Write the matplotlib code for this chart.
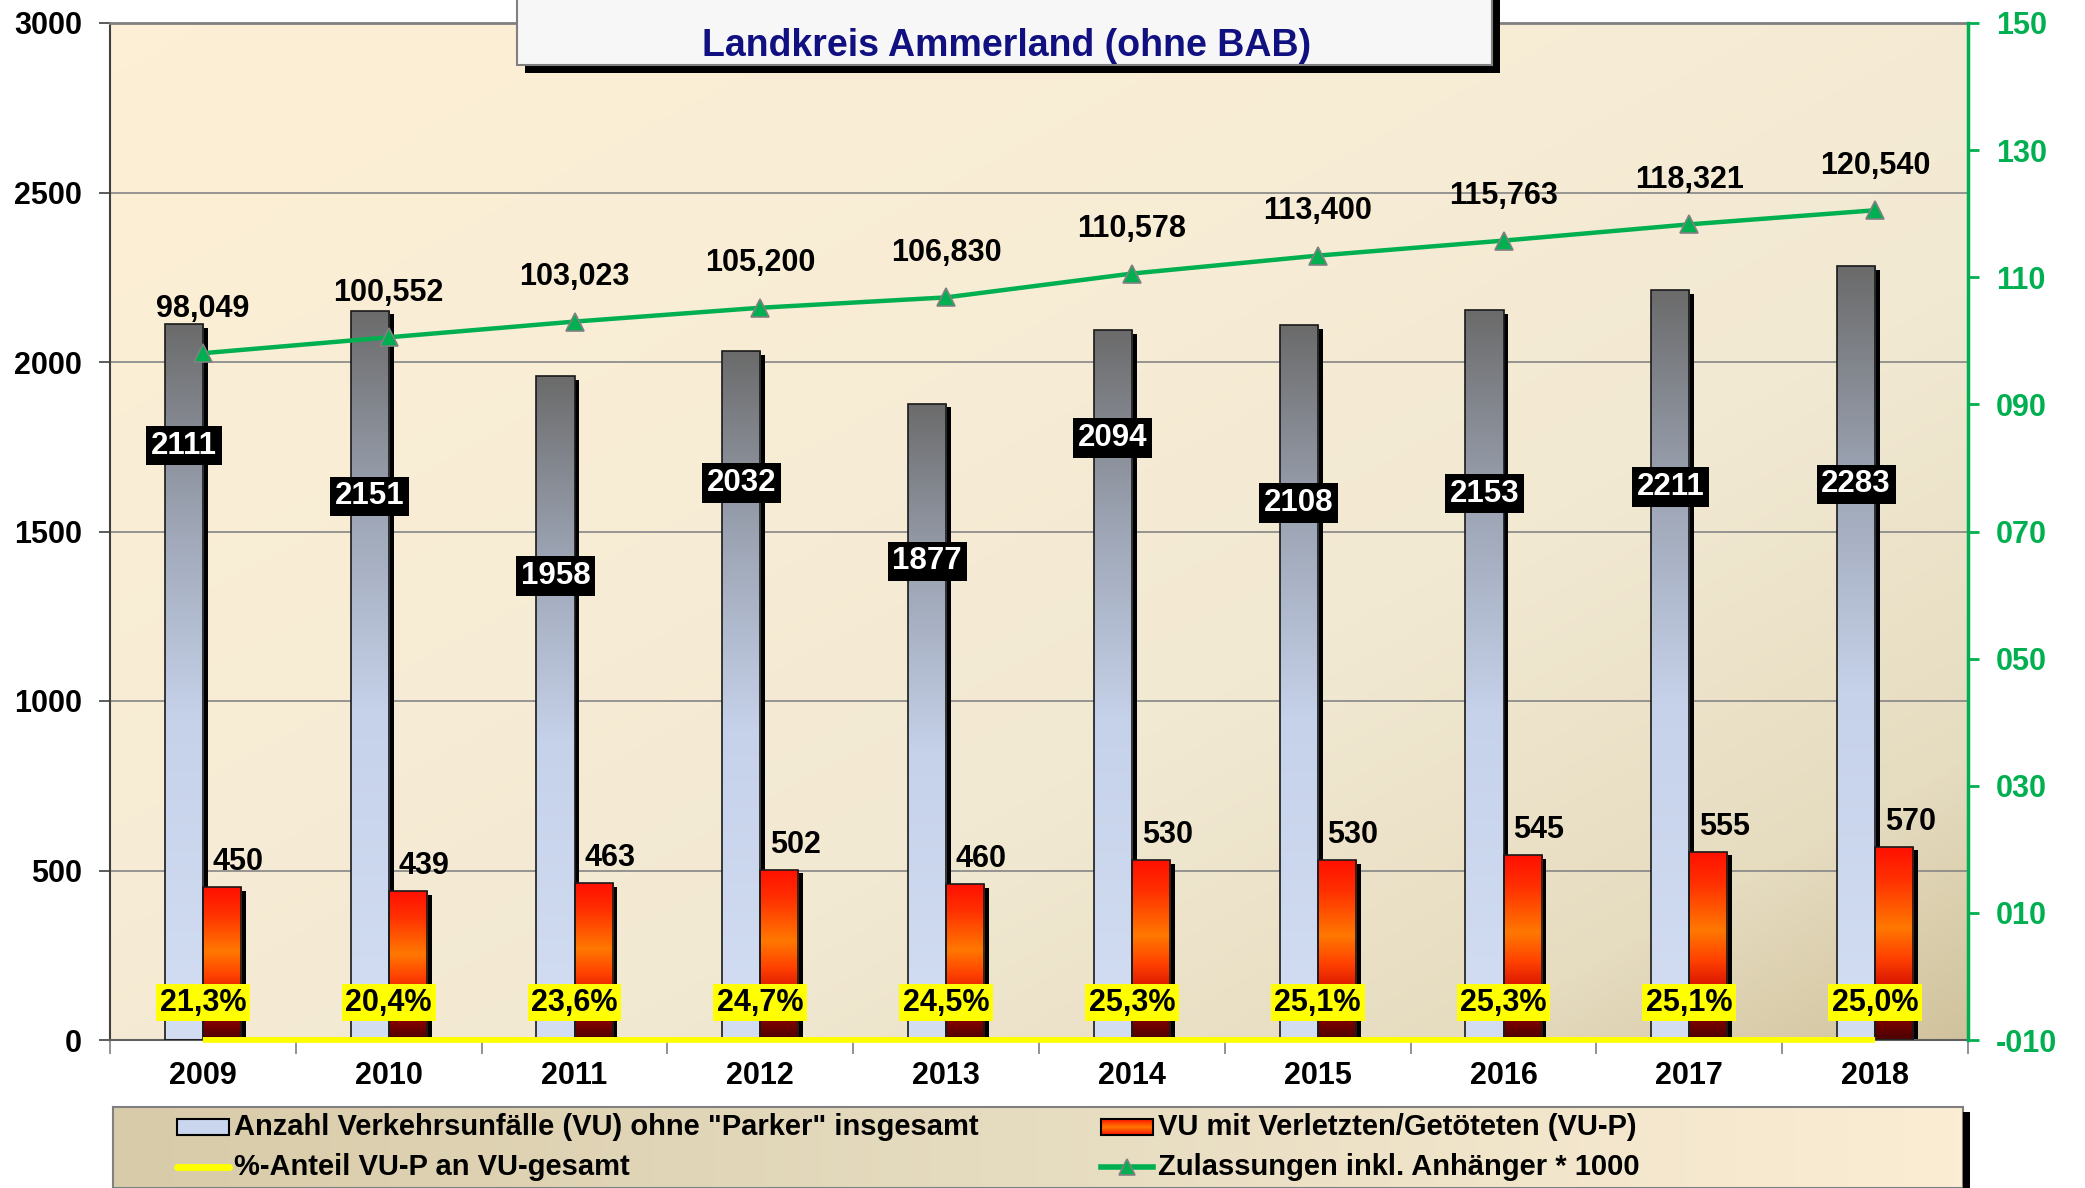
import numpy as np
import matplotlib
matplotlib.use("Agg")
import matplotlib.pyplot as plt
import matplotlib.patheffects as pe
from matplotlib.colors import LinearSegmentedColormap
from matplotlib.patches import Rectangle
from matplotlib.ticker import FuncFormatter

plt.rcParams['font.family'] = ['Liberation Sans', 'DejaVu Sans']
plt.rcParams['font.weight'] = 'bold'

years = ['2009', '2010', '2011', '2012', '2013', '2014', '2015', '2016', '2017', '2018']
vu_total = [2111, 2151, 1958, 2032, 1877, 2094, 2108, 2153, 2211, 2283]
vu_p = [450, 439, 463, 502, 460, 530, 530, 545, 555, 570]
share_pct = [21.3, 20.4, 23.6, 24.7, 24.5, 25.3, 25.1, 25.3, 25.1, 25.0]
zulassungen = [98.049, 100.552, 103.023, 105.200, 106.830, 110.578, 113.400, 115.763, 118.321, 120.540]

# heights (left axis units) where the black value boxes sit, as placed in the original
box_y = [1753, 1604, 1369, 1643, 1412, 1776, 1584, 1612, 1631, 1639]

GREEN = '#00b050'
W, H = 2085, 1188

grey_cmap = LinearSegmentedColormap.from_list(
    'greybar', [(0, '#d3def3'), (0.45, '#c6d2ea'), (0.72, '#9ea6b6'), (1, '#6b6b6b')])
red_cmap = LinearSegmentedColormap.from_list(
    'redbar', [(0, '#4a0000'), (0.13, '#8a0000'), (0.27, '#d41000'), (0.42, '#ff4000'),
               (0.58, '#ff7800'), (0.83, '#ff3000'), (1, '#ff1000')])
bg_cmap = LinearSegmentedColormap.from_list(
    'bg', [(0, '#fcefd6'), (0.5, '#f2e9d3'), (0.8, '#e6dcc0'), (1, '#d0c29c')])


def gradient_fill(ax, rect, cmap, z):
    x0, y0 = rect.get_x(), rect.get_y()
    w, h = rect.get_width(), rect.get_height()
    im = ax.imshow(np.linspace(0, 1, 256).reshape(-1, 1), cmap=cmap, origin='lower',
                   aspect='auto', extent=(x0, x0 + w, y0, y0 + h), zorder=z,
                   interpolation='bilinear')
    im.set_clip_path(rect)


fig = plt.figure(figsize=(W / 100, H / 100), dpi=100)
pos = [110 / W, 1 - 1040 / H, (1968 - 110) / W, (1040 - 23) / H]

# background of the plot area
bg = fig.add_axes(pos, zorder=-1)
xx, yy = np.meshgrid(np.linspace(0, 1, 400), np.linspace(0, 1, 300))
bg.imshow(((xx + yy) / 2) ** 1.5, cmap=bg_cmap, aspect='auto', extent=(0, 1, 0, 1),
          origin='upper', vmin=0, vmax=1)
bg.axis('off')

ax = fig.add_axes(pos)
ax.patch.set_visible(False)
x = np.arange(len(years))
bw = 0.205
shadow = [pe.SimplePatchShadow(offset=(3.5, -2.5), shadow_rgbFace='k', alpha=1.0), pe.Normal()]

b1 = ax.bar(x - bw / 2, vu_total, bw, color='k', zorder=2, path_effects=shadow)
b2 = ax.bar(x + bw / 2, vu_p, bw, color='k', zorder=2, path_effects=shadow)
for r in b1:
    gradient_fill(ax, r, grey_cmap, 2.5)
for r in b2:
    gradient_fill(ax, r, red_cmap, 2.5)
ax.bar(x - bw / 2, vu_total, bw, fill=False, edgecolor='#1a1a1a', lw=1.2, zorder=3)
ax.bar(x + bw / 2, vu_p, bw, fill=False, edgecolor='#1a1a1a', lw=1.2, zorder=3)

ax.plot(x, np.array(share_pct) / 100, color='#ffff00', lw=4.2, zorder=4, clip_on=False,
        solid_capstyle='butt')

for i in range(len(years)):
    ax.text(x[i] - bw / 2, box_y[i], str(vu_total[i]), color='white', fontsize=22.5,
            ha='center', va='center', zorder=6,
            bbox=dict(boxstyle='square,pad=0.15', fc='k', ec='none'))
    ax.text(x[i] + 0.19, vu_p[i] + 30, str(vu_p[i]), color='k', fontsize=22,
            ha='center', va='bottom', zorder=6)
    ax.text(x[i], 110, f"{share_pct[i]:.1f}%".replace('.', ','), color='k', fontsize=22,
            ha='center', va='center', zorder=6,
            bbox=dict(boxstyle='square,pad=0.12', fc='#ffff00', ec='none'))

ax.set_xlim(-0.5, len(years) - 0.5)
ax.set_ylim(0, 3000)
ax.set_yticks(range(0, 3001, 500))
ax.set_xticks(x)
ax.set_xticklabels(years)
ax.set_xticks(np.arange(-0.5, len(years), 1), minor=True)
ax.tick_params(axis='x', which='major', length=0, pad=15, labelsize=22)
ax.tick_params(axis='x', which='minor', length=10, width=1.2, color='#808080')
ax.tick_params(axis='y', length=8, width=1.2, color='#404040', pad=12, labelsize=22)
ax.yaxis.grid(True, color='#858585', lw=1.2)
ax.set_axisbelow(True)
ax.spines['left'].set_color('#404040')
ax.spines['left'].set_linewidth(1.5)
ax.spines['top'].set_color('#808080')
ax.spines['top'].set_linewidth(2)
ax.spines['bottom'].set_color('#606060')
ax.spines['bottom'].set_linewidth(1.5)
ax.spines['right'].set_visible(False)

ax2 = ax.twinx()
ax2.plot(x, zulassungen, color=GREEN, lw=3.2, marker='^', ms=13, mfc=GREEN,
         mec='#808080', mew=1.2, zorder=5)
for i in range(len(years)):
    ax2.text(x[i], zulassungen[i] + 7, f"{zulassungen[i]:.3f}".replace('.', ','),
             color='k', fontsize=22, ha='center', va='center')
ax2.set_ylim(-10, 150)
ax2.set_yticks(range(-10, 151, 20))
ax2.yaxis.set_major_formatter(FuncFormatter(
    lambda v, p: ('-' if v < 0 else '') + f"{abs(int(round(v))):03d}"))
ax2.tick_params(axis='y', length=8, width=2, color=GREEN, labelcolor=GREEN, pad=12,
                labelsize=22)
for s in ['left', 'top', 'bottom']:
    ax2.spines[s].set_visible(False)
ax2.spines['right'].set_color(GREEN)
ax2.spines['right'].set_linewidth(2.5)

# title box with shadow
fig.patches.append(Rectangle((525 / W, 1 - 73 / H), 975 / W, 0.08, transform=fig.transFigure,
                             fc='k', ec='none', zorder=10))
fig.patches.append(Rectangle((517 / W, 1 - 65 / H), 975 / W, 0.08, transform=fig.transFigure,
                             fc='#f7f7f7', ec='#808080', lw=1.5, zorder=11))
fig.text(1007 / W, 1 - 46 / H, 'Landkreis Ammerland (ohne BAB)', color='#101080',
         fontsize=27, ha='center', va='center', zorder=12)

# legend
fig.patches.append(Rectangle((1963 / W, 0), 7 / W, (1188 - 1112) / H, transform=fig.transFigure,
                             fc='k', ec='none', zorder=10))
lg = fig.add_axes([113 / W, 0, 1850 / W, 81 / H])
gx = np.linspace(0, 1, 400).reshape(1, -1)
lg_cmap = LinearSegmentedColormap.from_list('lg', ['#d8cba9', '#e6dcc0', '#fbedd4'])
lg.imshow(gx, cmap=lg_cmap, aspect='auto', extent=(0, 1850, 0, 81), zorder=0)
lg.set_xlim(0, 1850)
lg.set_ylim(0, 81)
for s in lg.spines.values():
    s.set_color('#808080')
    s.set_linewidth(1.5)
lg.set_xticks([])
lg.set_yticks([])

r1, r2 = 61, 21
hp = Rectangle((64, r1 - 8), 52, 16, fc='#cad6ee', ec='k', lw=1.5, zorder=3)
lg.add_patch(hp)
hr = Rectangle((988, r1 - 8), 52, 16, fc='k', ec='none', zorder=2)
lg.add_patch(hr)
gradient_fill(lg, hr, LinearSegmentedColormap.from_list(
    'lgred', ['#ff1000', '#ff7800', '#ff1000']), 2.5)
lg.add_patch(Rectangle((988, r1 - 8), 52, 16, fill=False, ec='k', lw=1.5, zorder=3))
lg.plot([64, 116], [r2, r2], color='#ffff00', lw=5, solid_capstyle='round', zorder=3)
lg.plot([988, 1040], [r2, r2], color=GREEN, lw=4, zorder=3)
lg.plot([1014], [r2], marker='^', ms=12, mfc=GREEN, mec='#808080', mew=1.2, zorder=4)
lg.text(121, r1, 'Anzahl Verkehrsunfälle (VU) ohne "Parker" insgesamt', fontsize=21,
        va='center', ha='left')
lg.text(1045, r1, 'VU mit Verletzten/Getöteten (VU-P)', fontsize=21, va='center', ha='left')
lg.text(121, r2, '%-Anteil VU-P an VU-gesamt', fontsize=21, va='center', ha='left')
lg.text(1045, r2, 'Zulassungen inkl. Anhänger * 1000', fontsize=21, va='center', ha='left')

fig.savefig('out.png', dpi=100)
